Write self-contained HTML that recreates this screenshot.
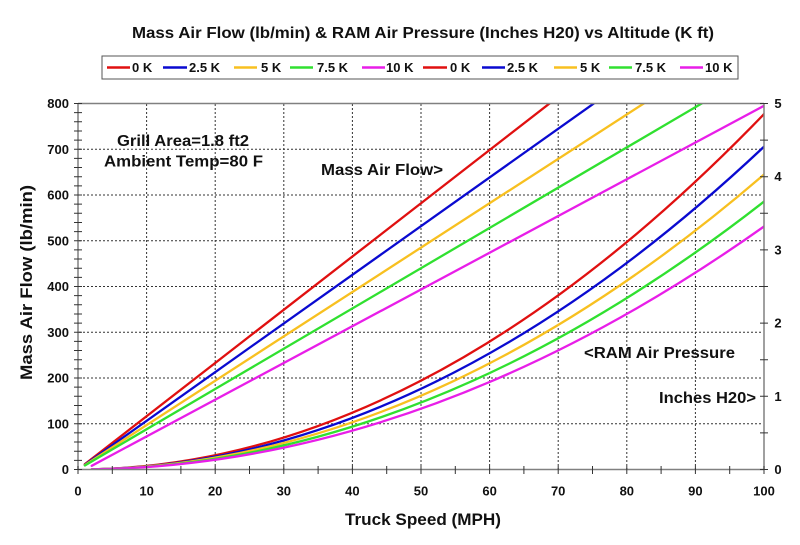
<!DOCTYPE html>
<html>
<head>
<meta charset="utf-8">
<style>
html,body{margin:0;padding:0;background:#fff;}
svg{display:block;}
text{font-family:"Liberation Sans",Arial,sans-serif;font-weight:bold;fill:#111;}
.n{font-family:"Liberation Sans Narrow","Liberation Sans",Arial,sans-serif;}
</style>
</head>
<body>
<svg width="800" height="545" viewBox="0 0 800 545" xmlns="http://www.w3.org/2000/svg">
<rect width="800" height="545" fill="#fff"/>
<defs>
<clipPath id="pc"><rect x="78" y="103.5" width="686" height="366"/></clipPath>
</defs>

<!-- title -->
<text class="n" x="132" y="38" font-size="16" textLength="582" lengthAdjust="spacingAndGlyphs">Mass Air Flow (lb/min) &amp; RAM Air Pressure (Inches H20) vs Altitude (K ft)</text>

<!-- legend -->
<rect x="102" y="56" width="636" height="23" fill="#fff" stroke="#555" stroke-width="1"/>
<g stroke-width="2.5">
<line x1="107" y1="67.5" x2="130" y2="67.5" stroke="#e01010"/>
<line x1="163" y1="67.5" x2="187" y2="67.5" stroke="#0a0ad0"/>
<line x1="234" y1="67.5" x2="257" y2="67.5" stroke="#f8c020"/>
<line x1="290" y1="67.5" x2="313" y2="67.5" stroke="#30e030"/>
<line x1="362" y1="67.5" x2="385" y2="67.5" stroke="#e81ee8"/>
<line x1="423" y1="67.5" x2="447" y2="67.5" stroke="#e01010"/>
<line x1="482" y1="67.5" x2="505" y2="67.5" stroke="#0a0ad0"/>
<line x1="554" y1="67.5" x2="577" y2="67.5" stroke="#f8c020"/>
<line x1="609" y1="67.5" x2="632" y2="67.5" stroke="#30e030"/>
<line x1="680" y1="67.5" x2="703" y2="67.5" stroke="#e81ee8"/>
</g>
<g font-size="13">
<text x="132" y="72">0 K</text>
<text x="189" y="72">2.5 K</text>
<text x="261" y="72">5 K</text>
<text x="317" y="72">7.5 K</text>
<text x="386" y="72">10 K</text>
<text x="450" y="72">0 K</text>
<text x="507" y="72">2.5 K</text>
<text x="580" y="72">5 K</text>
<text x="635" y="72">7.5 K</text>
<text x="705" y="72">10 K</text>
</g>

<!-- grid -->
<g stroke="#333" stroke-width="1" stroke-dasharray="2,2" fill="none">
<line x1="146.6" y1="104" x2="146.6" y2="469"/>
<line x1="215.2" y1="104" x2="215.2" y2="469"/>
<line x1="283.8" y1="104" x2="283.8" y2="469"/>
<line x1="352.4" y1="104" x2="352.4" y2="469"/>
<line x1="421" y1="104" x2="421" y2="469"/>
<line x1="489.6" y1="104" x2="489.6" y2="469"/>
<line x1="558.2" y1="104" x2="558.2" y2="469"/>
<line x1="626.8" y1="104" x2="626.8" y2="469"/>
<line x1="695.4" y1="104" x2="695.4" y2="469"/>
<line x1="79" y1="423.75" x2="763" y2="423.75"/>
<line x1="79" y1="378" x2="763" y2="378"/>
<line x1="79" y1="332.25" x2="763" y2="332.25"/>
<line x1="79" y1="286.5" x2="763" y2="286.5"/>
<line x1="79" y1="240.75" x2="763" y2="240.75"/>
<line x1="79" y1="195" x2="763" y2="195"/>
<line x1="79" y1="149.25" x2="763" y2="149.25"/>
</g>

<!-- series -->
<g clip-path="url(#pc)" fill="none" stroke-width="2.3" stroke-linejoin="round" stroke-linecap="round">
<polyline stroke="#e01010" points="84.86,464.17 764,-63"/>
<polyline stroke="#0a0ad0" points="84.86,464.63 764,-17.28"/>
<polyline stroke="#f8c020" points="84.86,465.06 764,25.72"/>
<polyline stroke="#30e030" points="84.86,465.47 764,66.9"/>
<polyline stroke="#e81ee8" points="91.72,465.81 764,105.79"/>
<path stroke="#e01010" d="M91.72,469.36 Q427.86,462.39 764,114.11"/>
<path stroke="#0a0ad0" d="M91.72,469.37 Q427.86,463.04 764,146.69"/>
<path stroke="#f8c020" d="M91.72,469.38 Q427.86,463.60 764,174.5"/>
<path stroke="#30e030" d="M91.72,469.39 Q427.86,464.14 764,201.59"/>
<path stroke="#e81ee8" d="M91.72,469.40 Q427.86,464.64 764,226.48"/>
</g>

<!-- frame / axes -->
<g stroke="#808080" stroke-width="1.5" fill="none">
<line x1="78" y1="103.5" x2="764" y2="103.5"/>
<line x1="78" y1="103.5" x2="78" y2="469.5"/>
<line x1="764" y1="103.5" x2="764" y2="469.5"/>
<line x1="78" y1="469.5" x2="764" y2="469.5"/>
</g>

<!-- ticks -->
<g stroke="#333" stroke-width="1">
<path d="M74,469.5h8M74,460.35h8M74,451.2h8M74,442.05h8M74,432.9h8M74,423.75h8M74,414.6h8M74,405.45h8M74,396.3h8M74,387.15h8M74,378h8M74,368.85h8M74,359.7h8M74,350.55h8M74,341.4h8M74,332.25h8M74,323.1h8M74,313.95h8M74,304.8h8M74,295.65h8M74,286.5h8M74,277.35h8M74,268.2h8M74,259.05h8M74,249.9h8M74,240.75h8M74,231.6h8M74,222.45h8M74,213.3h8M74,204.15h8M74,195h8M74,185.85h8M74,176.7h8M74,167.55h8M74,158.4h8M74,149.25h8M74,140.1h8M74,130.95h8M74,121.8h8M74,112.65h8M74,103.5h8"/>
<path d="M760,469.5h8M760,432.9h8M760,396.3h8M760,359.7h8M760,323.1h8M760,286.5h8M760,249.9h8M760,213.3h8M760,176.7h8M760,140.1h8M760,103.5h8"/>
<path d="M78,466v8M112.3,466v8M146.6,466v8M180.9,466v8M215.2,466v8M249.5,466v8M283.8,466v8M318.1,466v8M352.4,466v8M386.7,466v8M421,466v8M455.3,466v8M489.6,466v8M523.9,466v8M558.2,466v8M592.5,466v8M626.8,466v8M661.1,466v8M695.4,466v8M729.7,466v8M764,466v8"/>
</g>

<!-- left labels -->
<g font-size="13" text-anchor="end">
<text x="69" y="474">0</text>
<text x="69" y="428.25">100</text>
<text x="69" y="382.5">200</text>
<text x="69" y="336.75">300</text>
<text x="69" y="291">400</text>
<text x="69" y="245.25">500</text>
<text x="69" y="199.5">600</text>
<text x="69" y="153.75">700</text>
<text x="69" y="108">800</text>
</g>
<!-- right labels -->
<g font-size="13" text-anchor="middle">
<text x="778" y="474">0</text>
<text x="778" y="400.8">1</text>
<text x="778" y="327.6">2</text>
<text x="778" y="254.4">3</text>
<text x="778" y="181.2">4</text>
<text x="778" y="108">5</text>
</g>
<!-- bottom labels -->
<g font-size="13" text-anchor="middle">
<text x="78" y="495.5">0</text>
<text x="146.6" y="495.5">10</text>
<text x="215.2" y="495.5">20</text>
<text x="283.8" y="495.5">30</text>
<text x="352.4" y="495.5">40</text>
<text x="421" y="495.5">50</text>
<text x="489.6" y="495.5">60</text>
<text x="558.2" y="495.5">70</text>
<text x="626.8" y="495.5">80</text>
<text x="695.4" y="495.5">90</text>
<text x="764" y="495.5">100</text>
</g>

<!-- axis titles -->
<text x="345" y="525" font-size="17" textLength="156" lengthAdjust="spacingAndGlyphs">Truck Speed (MPH)</text>
<text transform="translate(32,380) rotate(-90)" x="0" y="0" font-size="17" textLength="195" lengthAdjust="spacingAndGlyphs">Mass Air Flow (lb/min)</text>

<!-- annotations -->
<g font-size="15.5" fill="#222">
<text x="117" y="146" textLength="132" lengthAdjust="spacingAndGlyphs">Grill Area=1.8 ft2</text>
<text x="104" y="166.5" textLength="159" lengthAdjust="spacingAndGlyphs">Ambient Temp=80 F</text>
<text x="321" y="175" textLength="122" lengthAdjust="spacingAndGlyphs">Mass Air Flow&gt;</text>
<text x="584" y="358" textLength="151" lengthAdjust="spacingAndGlyphs">&lt;RAM Air Pressure</text>
<text x="659" y="403" textLength="97" lengthAdjust="spacingAndGlyphs">Inches H20&gt;</text>
</g>
</svg>
</body>
</html>
